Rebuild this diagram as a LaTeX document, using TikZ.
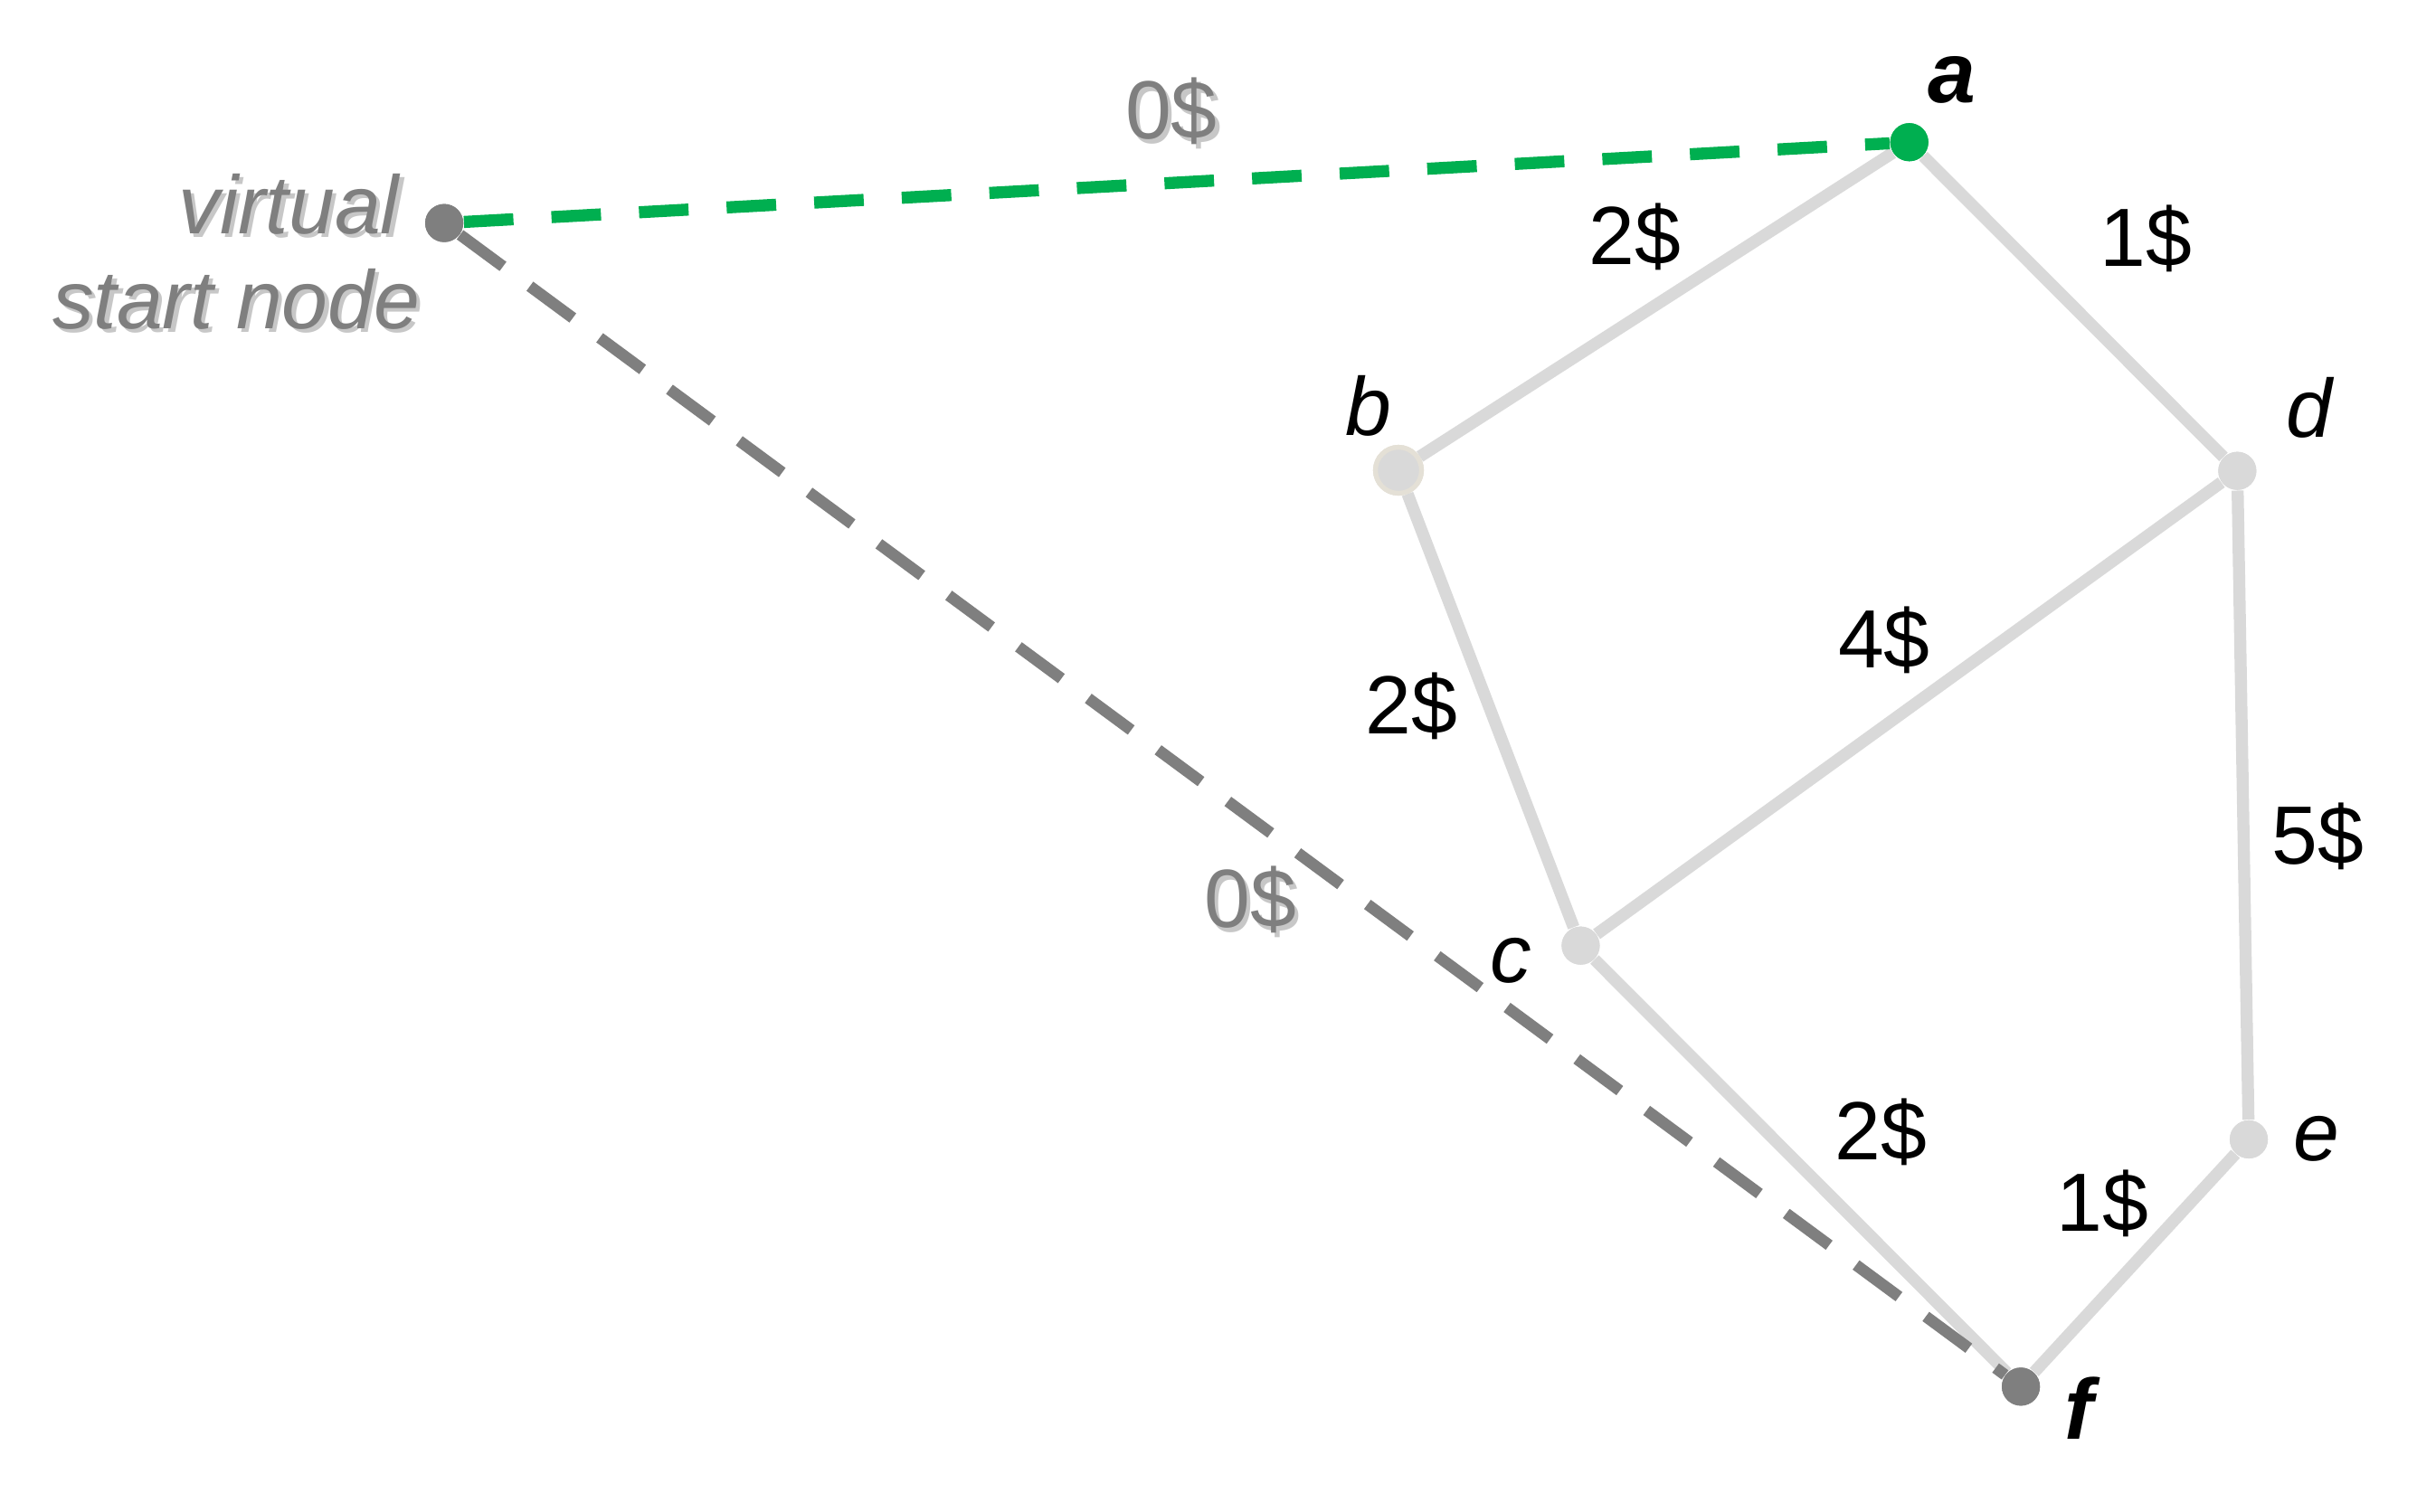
\documentclass[tikz,border=0pt]{standalone}
\usepackage{fontspec}
\setmainfont{Liberation Sans}
\definecolor{edgegray}{HTML}{D9D9D9}
\definecolor{darkgray2}{HTML}{7F7F7F}
\definecolor{pathgreen}{HTML}{00AF50}
\definecolor{bring}{HTML}{E4E0D6}
\begin{document}
\begin{tikzpicture}[x=0.017128cm,y=-0.017128cm,
  dot/.style={circle,inner sep=0pt,minimum size=12pt},
  lightdot/.style={dot,fill=edgegray},
  bdot/.style={circle,inner sep=0pt,fill=edgegray,draw=bring,line width=1.5pt,minimum size=14.5pt},
  edge/.style={draw=edgegray,line width=3.8pt},
  cost/.style={font=\fontsize{26}{30}\selectfont,text=black,inner sep=0pt},
  vlabel/.style={font=\fontsize{26}{30}\selectfont\itshape,text=black,inner sep=0pt},
  vlabelbold/.style={font=\fontsize{27}{30}\selectfont\bfseries\itshape,text=black,inner sep=0pt},
  zerocost/.style={font=\fontsize{26}{30}\selectfont,text=darkgray2,inner sep=0pt},
  zeroshadow/.style={zerocost,text=black!22},
  vstext/.style={font=\fontsize{26}{33}\selectfont\itshape,text=darkgray2,inner sep=0pt},
  vsshadow/.style={vstext,text=black!22},
  greendash/.style={draw=pathgreen,line width=3.8pt,dash pattern=on 15.6pt off 12pt},
  graydash/.style={draw=darkgray2,line width=3.6pt,dash pattern=on 16.8pt off 10.5pt}
]
\useasboundingbox (0,0) rectangle (1560,976);

% vertices (placed first so edges can refer to them)
\node[dot,fill=darkgray2] (vs) at (286.7,144) {};
\node[dot,fill=pathgreen] (a) at (1232.3,91.8) {};
\node[bdot] (b) at (902.6,303.6) {};
\node[lightdot] (d) at (1444,304) {};
\node[lightdot] (c) at (1020.2,610.5) {};
\node[lightdot] (e) at (1451.4,735.6) {};
\node[dot,fill=darkgray2] (f) at (1304.3,895.2) {};

% graph edges
\path[edge] (a) -- (b);
\path[edge] (a) -- (d);
\path[edge] (b) -- (c);
\path[edge] (d) -- (c);
\path[edge] (d) -- (e);
\path[edge] (c) -- (f);
\path[edge] (e) -- (f);

% virtual edges
\path[greendash] (vs) -- (a);
\path[graydash] (vs) -- (f);

% redraw vertices on top of the edges
\node[dot,fill=darkgray2] (vs2) at (vs) {};
\node[dot,fill=pathgreen] (a2) at (a) {};
\node[bdot] (b2) at (b) {};
\node[lightdot] (d2) at (d) {};
\node[lightdot] (c2) at (c) {};
\node[lightdot] (e2) at (e) {};
\node[dot,fill=darkgray2] (f2) at (f) {};

% vertex labels
\node[vlabelbold] (la) at (1260,51.5) {a};
\node[vlabel] (lb) at (883,262) {b};
\node[vlabel] (lc) at (975,620) {c};
\node[vlabel] (ld) at (1490.6,263) {d};
\node[vlabel] (le) at (1495,735) {e};
\node[vlabelbold] (lf) at (1342,909) {f};

% costs
\node[cost] (cab) at (1055,153) {2\$};
\node[cost] (cad) at (1385,154) {1\$};
\node[cost] (cbc) at (911,456) {2\$};
\node[cost] (ccd) at (1216,413) {4\$};
\node[cost] (cde) at (1496,540) {5\$};
\node[cost] (ccf) at (1214,731) {2\$};
\node[cost] (cef) at (1357,777) {1\$};

% zero costs with shadow
\node[zeroshadow] (z1s) at (758.5,74.5) {0\$};
\node[zerocost] (z1) at (756,72) {0\$};
\node[zeroshadow] (z2s) at (809.5,583.5) {0\$};
\node[zerocost] (z2) at (807,581) {0\$};

% virtual start node text with shadow
\node[vsshadow,anchor=base east] (vss1) at (260.5,153.3) {virtual};
\node[vstext,anchor=base east] (vst1) at (258,150.8) {virtual};
\node[vsshadow,anchor=base east] (vss2) at (274,214.5) {start node};
\node[vstext,anchor=base east] (vst2) at (271.5,212) {start node};
\end{tikzpicture}
\end{document}
